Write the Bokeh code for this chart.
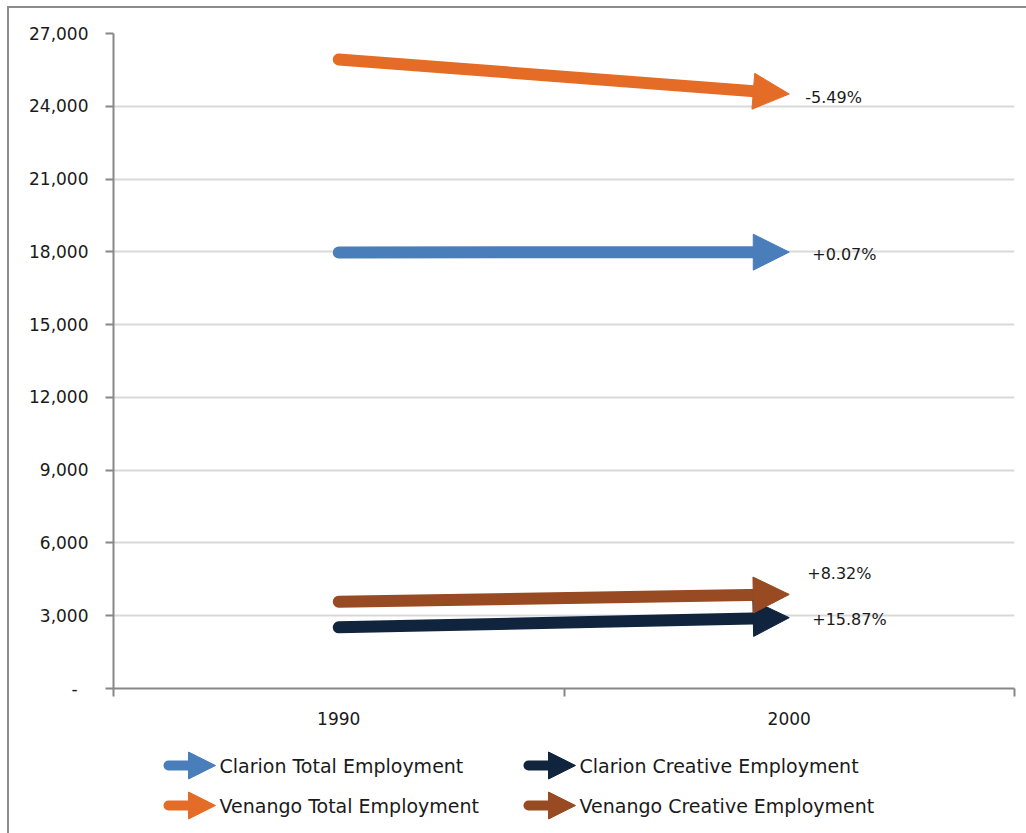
from bokeh.plotting import figure
from bokeh.models import Range1d, FixedTicker, Arrow, NormalHead, Label, NumeralTickFormatter
from bokeh.layouts import column
from bokeh.embed import file_html
from bokeh.resources import INLINE

# Employment in Clarion and Venango counties, 1990 vs 2000
years = ["1990", "2000"]
series = ["Clarion Total Employment", "Clarion Creative Employment",
          "Venango Total Employment", "Venango Creative Employment"]
emp_1990 = [17975, 2520, 25930, 3580]
emp_2000 = [17988, 2920, 24506, 3878]
change_labels = ["+0.07%", "+15.87%", "-5.49%", "+8.32%"]
colors = ["#4a7ebb", "#10243e", "#e46c26", "#984a22"]
y_ticks = [0, 3000, 6000, 9000, 12000, 15000, 18000, 21000, 24000, 27000]

FONT = "DejaVu Sans"
TEXT = "#1a1a1a"
AXIS = "#878787"

FRAME_W = 901          # plot frame width in px
FRAME_H = 655          # plot frame height in px
Y_MAX = 27000
SHAFT_W = 12
HEAD = 36
SHAFT_PULLBACK = 20    # px between shaft end and arrow tip

# label placement tweaks (screen px) for the change annotations
label_nudge = [(23, -2), (23, -2), (16, -3), (18, 21)]

p = figure(width=1017, height=732, x_range=Range1d(0, len(years)), y_range=Range1d(0, Y_MAX),
           output_backend="svg", toolbar_location=None,
           min_border_left=104, min_border_right=12, min_border_top=25, min_border_bottom=52)
p.outline_line_color = None
p.background_fill_color = "white"
p.border_fill_color = "white"

p.xgrid.visible = False
p.ygrid.ticker = FixedTicker(ticks=y_ticks)
p.ygrid.grid_line_color = "#d9d9d9"
p.ygrid.grid_line_width = 2

yax = p.yaxis[0]
yax.ticker = FixedTicker(ticks=y_ticks)
yax.formatter = NumeralTickFormatter(format="0,0")
yax.major_label_overrides = {0: "-\u00a0\u00a0"}
yax.axis_line_color = AXIS
yax.axis_line_width = 2
yax.major_tick_line_color = AXIS
yax.major_tick_line_width = 2
yax.major_tick_out = 8
yax.major_tick_in = 0
yax.minor_tick_line_color = None
yax.major_label_standoff = 17
yax.major_label_text_font = FONT
yax.major_label_text_font_size = "17px"
yax.major_label_text_color = TEXT

centers = [i + 0.5 for i in range(len(years))]
xax = p.xaxis[0]
xax.ticker = FixedTicker(ticks=centers, minor_ticks=list(range(len(years) + 1)))
xax.major_label_overrides = {c: y for c, y in zip(centers, years)}
xax.axis_line_color = AXIS
xax.axis_line_width = 2
xax.major_tick_line_color = None
xax.major_tick_out = 0
xax.major_tick_in = 0
xax.minor_tick_line_color = AXIS
xax.minor_tick_line_width = 2
xax.minor_tick_out = 8
xax.minor_tick_in = 0
xax.major_label_standoff = 15
xax.major_label_text_font = FONT
xax.major_label_text_font_size = "17px"
xax.major_label_text_color = TEXT

# px per data unit, used to stop each shaft short of its arrow head
px_x = FRAME_W / len(years)
px_y = FRAME_H / Y_MAX

for i in range(len(series)):
    x0, x1 = centers[0], centers[1]
    y0, y1 = emp_1990[i], emp_2000[i]
    dxp = (x1 - x0) * px_x
    dyp = (y1 - y0) * px_y
    length = (dxp ** 2 + dyp ** 2) ** 0.5
    f = 1 - SHAFT_PULLBACK / length
    xs = x0 + (x1 - x0) * f
    ys = y0 + (y1 - y0) * f
    p.segment(x0=[x0], y0=[y0], x1=[xs], y1=[ys], line_color=colors[i],
              line_width=SHAFT_W, line_cap="round")
    p.add_layout(Arrow(x_start=x0, y_start=y0, x_end=x1, y_end=y1,
                       line_alpha=0, start=None,
                       end=NormalHead(size=HEAD, fill_color=colors[i], line_color=colors[i], line_width=1)))
    dx, dy = label_nudge[i]
    p.add_layout(Label(x=x1, y=y1, x_offset=dx, y_offset=dy,
                       text=change_labels[i], text_baseline="middle",
                       text_font=FONT, text_font_size="16px", text_color=TEXT))

# legend panel below the chart; its frame spans the same px as the chart frame
leg = figure(width=1017, height=93, x_range=Range1d(113, 1014), y_range=Range1d(833, 740),
             output_backend="svg", toolbar_location=None,
             x_axis_type=None, y_axis_type=None,
             min_border_left=104, min_border_right=12, min_border_top=0, min_border_bottom=0)
leg.outline_line_color = None
leg.grid.visible = False
leg.background_fill_color = "white"
leg.border_fill_color = "white"

col_x = [168, 528]
row_y = [765, 805]
for i, name in enumerate(series):
    lx = col_x[i % 2]
    ly = row_y[i // 2]
    leg.segment(x0=[lx], y0=[ly], x1=[lx + 30], y1=[ly], line_color=colors[i],
                line_width=10, line_cap="round")
    leg.add_layout(Arrow(x_start=lx, y_start=ly, x_end=lx + 47, y_end=ly,
                         line_alpha=0, start=None,
                         end=NormalHead(size=27, fill_color=colors[i], line_color=colors[i], line_width=1)))
    leg.add_layout(Label(x=lx + 51, y=ly, text=name, text_baseline="middle",
                         text_font=FONT, text_font_size="19px", text_color=TEXT))

layout = column(p, leg, spacing=0,
                styles={"border-left": "2px solid #8c8c8c", "border-top": "2px solid #8c8c8c",
                        "margin-left": "7px", "margin-top": "6px"})

open("out.html", "w").write(file_html(layout, INLINE))
